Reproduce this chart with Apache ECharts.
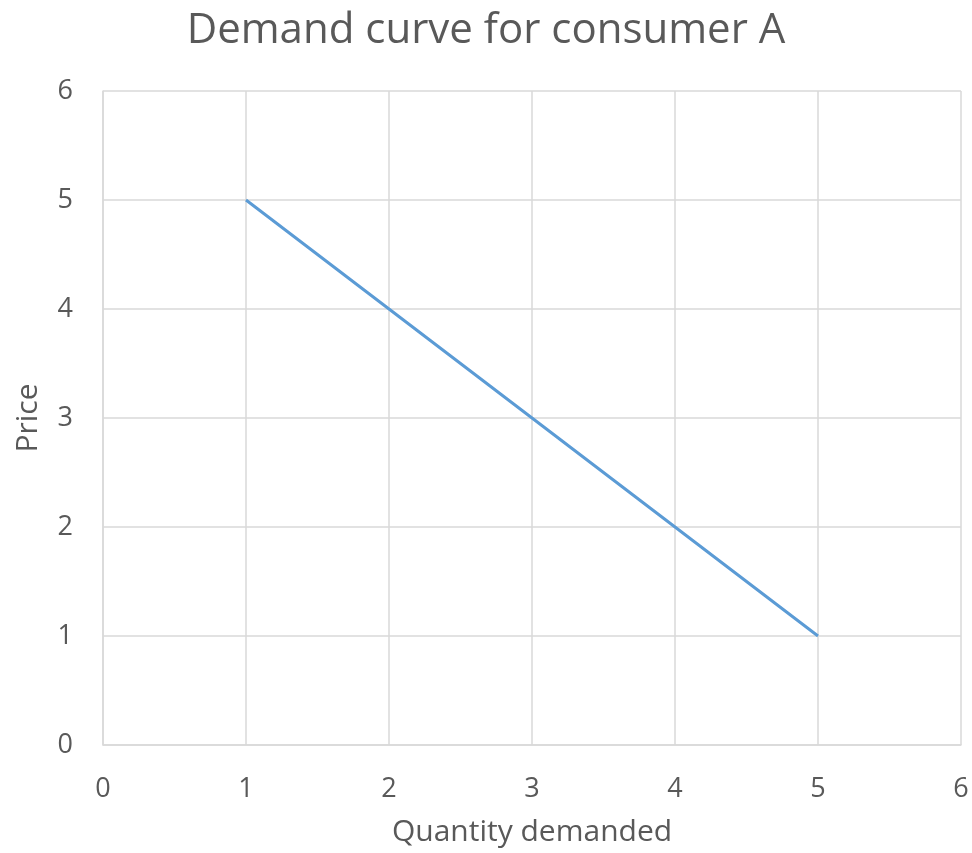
<!DOCTYPE html>
<html><head><meta charset="utf-8">
<script src="https://cdn.jsdelivr.net/npm/echarts@6/dist/echarts.min.js"></script>
<style>html,body{margin:0;padding:0;background:#fff}#c{width:972px;height:853px}</style>
</head><body><div id="c"></div>
<script>
const quantity = [1, 2, 3, 4, 5];
const price = [5, 4, 3, 2, 1];
const titleText = 'Demand curve for consumer A';
const xName = 'Quantity demanded';
const yName = 'Price';
const font = '"Open Sans", sans-serif';
const chart = echarts.init(document.getElementById('c'));
chart.setOption({
  animation: false,
  title: { text: titleText, left: 'center', top: 5,
    textStyle: { fontFamily: font, fontSize: 42, fontWeight: 'normal', color: '#595959' } },
  grid: { left: 103, right: 11, top: 91, bottom: 108, containLabel: false },
  xAxis: { type: 'value', min: 0, max: 6, interval: 1,
    name: xName, nameLocation: 'middle', nameGap: 72,
    nameTextStyle: { fontFamily: font, fontSize: 30, color: '#595959' },
    axisLine: { show: true, lineStyle: { color: '#d9d9d9', width: 1.5 } },
    axisTick: { show: false },
    axisLabel: { fontFamily: font, fontSize: 27, color: '#595959', margin: 31 },
    splitLine: { show: true, lineStyle: { color: '#d9d9d9', width: 1.5 } } },
  yAxis: { type: 'value', min: 0, max: 6, interval: 1,
    name: yName, nameLocation: 'middle', nameGap: 60, nameRotate: 90,
    nameTextStyle: { fontFamily: font, fontSize: 30, color: '#595959' },
    axisLine: { show: true, lineStyle: { color: '#d9d9d9', width: 1.5 } },
    axisTick: { show: false },
    axisLabel: { fontFamily: font, fontSize: 27, color: '#595959', margin: 30 },
    splitLine: { show: true, lineStyle: { color: '#d9d9d9', width: 1.5 } } },
  series: [{ type: 'line', data: quantity.map((q, i) => [q, price[i]]),
    showSymbol: false, lineStyle: { color: '#5b9bd5', width: 3 } }]
});
</script></body></html>
